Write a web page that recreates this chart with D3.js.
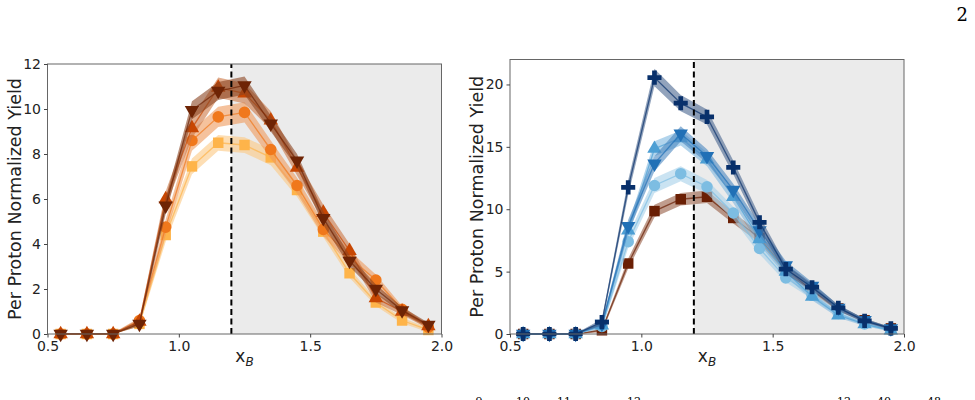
<!DOCTYPE html>
<html>
<head>
<meta charset="utf-8">
<script src="https://cdn.jsdelivr.net/npm/d3@7"></script>
<style>
body { margin: 0; background: #fff; }
svg { display: block; }
.tick text { font-family: "DejaVu Sans", sans-serif; font-size: 14px; fill: #222; }
</style>
</head>
<body>
<div id="chart"></div>
<script>
let w = 975; let h = 400;

// x_B bin centres
const xB = [0.55, 0.65, 0.75, 0.85, 0.95, 1.05, 1.15, 1.25, 1.35, 1.45, 1.55, 1.65, 1.75, 1.85, 1.95];
const xTicks = [0.5, 1.0, 1.5, 2.0];
const leftYTicks = [0, 2, 4, 6, 8, 10, 12];
const rightYTicks = [0, 5, 10, 15, 20];

// left panel series
const leftSquare = [0, 0, 0, 0.45, 4.4, 7.45, 8.5, 8.4, 7.85, 6.4, 4.55, 2.7, 1.4, 0.6, 0.18];
const leftSquareErr = [0.05, 0.05, 0.05, 0.1, 0.3, 0.35, 0.35, 0.35, 0.35, 0.3, 0.25, 0.2, 0.15, 0.12, 0.1];
const leftCircle = [0, 0, 0, 0.6, 4.75, 8.6, 9.65, 9.85, 8.2, 6.6, 4.65, 3.4, 2.4, 1.1, 0.3];
const leftCircleErr = [0.05, 0.05, 0.05, 0.12, 0.35, 0.45, 0.45, 0.45, 0.4, 0.35, 0.3, 0.3, 0.25, 0.15, 0.1];
const leftUp = [0, 0, 0, 0.55, 6.0, 9.15, 10.95, 10.7, 9.5, 7.4, 5.4, 3.7, 1.6, 1.0, 0.35];
const leftUpErr = [0.05, 0.05, 0.05, 0.12, 0.35, 0.45, 0.45, 0.45, 0.4, 0.35, 0.35, 0.3, 0.2, 0.15, 0.1];
const leftDown = [0, 0, 0, 0.45, 5.7, 9.95, 10.8, 11.05, 9.35, 7.7, 5.15, 3.25, 2.0, 1.05, 0.4];
const leftDownErr = [0.05, 0.05, 0.05, 0.12, 0.35, 0.4, 0.4, 0.4, 0.35, 0.3, 0.3, 0.25, 0.2, 0.15, 0.1];

// right panel series
const rightSquare = [0, 0, 0, 0.3, 5.65, 9.85, 10.8, 11.0, 9.3, 7.7, 5.15, 3.5, 2.05, 1.1, 0.45];
const rightSquareErr = [0.05, 0.05, 0.05, 0.15, 0.4, 0.5, 0.5, 0.5, 0.45, 0.4, 0.3, 0.25, 0.2, 0.15, 0.1];
const rightCircle = [0, 0, 0, 0.6, 7.4, 11.9, 12.85, 11.8, 9.7, 6.85, 4.5, 3.1, 1.65, 0.8, 0.3];
const rightCircleErr = [0.05, 0.05, 0.05, 0.2, 0.5, 0.6, 0.6, 0.55, 0.5, 0.45, 0.35, 0.3, 0.2, 0.15, 0.1];
const rightUp = [0, 0, 0, 0.7, 8.3, 14.85, 15.7, 14.0, 11.0, 7.6, 5.0, 3.0, 1.5, 0.8, 0.3];
const rightUpErr = [0.05, 0.05, 0.05, 0.2, 0.5, 0.6, 0.6, 0.55, 0.5, 0.45, 0.35, 0.3, 0.2, 0.15, 0.1];
const rightDown = [0, 0, 0, 0.8, 8.65, 13.65, 16.05, 14.25, 11.55, 8.3, 5.5, 3.85, 2.1, 1.1, 0.45];
const rightDownErr = [0.05, 0.05, 0.05, 0.2, 0.5, 0.6, 0.6, 0.55, 0.5, 0.45, 0.35, 0.3, 0.2, 0.15, 0.1];
const rightPlus = [0, 0, 0, 0.95, 11.75, 20.55, 18.5, 17.4, 13.35, 8.95, 5.2, 3.75, 2.1, 1.05, 0.45];
const rightPlusErr = [0.05, 0.05, 0.05, 0.25, 0.6, 0.7, 0.65, 0.6, 0.55, 0.5, 0.4, 0.3, 0.25, 0.15, 0.1];

// cut-off caption superscripts at the bottom
const captionSups = ["9", "10", "11", "12", "12", "40", "48"];
const captionX = [479, 523, 564, 634, 844, 884, 934];

let svg = d3.select("#chart").append("svg").attr("width", w).attr("height", h);

// page number
svg.append("text")
  .attr("x", 968).attr("y", 21)
  .attr("text-anchor", "end")
  .attr("font-family", "DejaVu Serif, serif")
  .attr("font-size", "18px")
  .text("2");

function panel(opt) {
  let x = d3.scaleLinear().domain([0.5, 2.0]).range([opt.x0, opt.x1]);
  let y = d3.scaleLinear().domain([0, opt.ymax]).range([334, opt.ytop]);
  let g = svg.append("g");

  // shaded region x_B > 1.2
  g.append("rect")
    .attr("x", x(1.2)).attr("y", y(opt.ymax))
    .attr("width", x(2.0) - x(1.2)).attr("height", y(0) - y(opt.ymax))
    .attr("fill", "#ebebeb");

  opt.series.forEach(s => {
    let pts = xB.map((v, i) => ({ x: v, y: s.values[i], e: s.err[i] }));
    let area = d3.area().x(d => x(d.x)).y0(d => y(Math.max(0, d.y - d.e))).y1(d => y(d.y + d.e));
    g.append("path").datum(pts)
      .attr("d", area)
      .attr("fill", s.band).attr("fill-opacity", 0.6);
    g.append("path").datum(pts)
      .attr("d", d3.line().x(d => x(d.x)).y(d => y(d.y)))
      .attr("fill", "none").attr("stroke", s.color).attr("stroke-width", 1.3).attr("stroke-opacity", 0.7);
    g.selectAll(null).data(pts).enter().append("path")
      .attr("d", d3.symbol().type(s.shape).size(s.size))
      .attr("transform", d => "translate(" + x(d.x) + "," + y(d.y) + ")" + (s.flip ? " rotate(180)" : ""))
      .attr("fill", s.color);
  });

  // dashed cut line
  g.append("line")
    .attr("x1", x(1.2)).attr("x2", x(1.2))
    .attr("y1", y(0)).attr("y2", y(opt.ymax))
    .attr("stroke", "#000").attr("stroke-width", 2).attr("stroke-dasharray", "6,3.5");

  // frame
  g.append("rect")
    .attr("x", opt.x0).attr("y", opt.ytop)
    .attr("width", opt.x1 - opt.x0).attr("height", 334 - opt.ytop)
    .attr("fill", "none").attr("stroke", "#666").attr("stroke-width", 1);

  let ax = g.append("g").attr("transform", "translate(0,334)")
    .call(d3.axisBottom(x).tickValues(xTicks).tickFormat(d3.format(".1f")).tickSize(3.5).tickPadding(2));
  let ay = g.append("g").attr("transform", "translate(" + opt.x0 + ",0)")
    .call(d3.axisLeft(y).tickValues(opt.yTicks).tickSize(3.5).tickPadding(3));
  [ax, ay].forEach(a => {
    a.select(".domain").remove();
    a.selectAll(".tick line").attr("stroke", "#444");
  });
  ax.selectAll(".tick text").attr("dy", "0.85em");

  g.append("text")
    .attr("transform", "translate(" + (opt.x0 - 27) + "," + ((334 + opt.ytop) / 2) + ") rotate(-90)")
    .attr("text-anchor", "middle")
    .attr("font-family", "DejaVu Sans, sans-serif")
    .attr("font-size", "17.5px")
    .attr("fill", "#222")
    .text("Per Proton Normalized Yield");

  let xl = g.append("text")
    .attr("x", (opt.x0 + opt.x1) / 2).attr("y", 362)
    .attr("text-anchor", "middle")
    .attr("font-family", "DejaVu Sans, sans-serif")
    .attr("font-size", "17px")
    .attr("fill", "#222");
  xl.append("tspan").text("x");
  xl.append("tspan").attr("dy", 4).attr("font-size", "12px").attr("font-style", "italic").text("B");
}

panel({
  x0: 47.5, x1: 441.5, ymax: 12, ytop: 64, yTicks: leftYTicks,
  series: [
    { values: leftSquare, err: leftSquareErr, color: "#feb44a", band: "#fbc882", shape: d3.symbolSquare, size: 110 },
    { values: leftCircle, err: leftCircleErr, color: "#f0781c", band: "#ee9a5c", shape: d3.symbolCircle, size: 105 },
    { values: leftUp, err: leftUpErr, color: "#c74703", band: "#cc7744", shape: d3.symbolTriangle, size: 90 },
    { values: leftDown, err: leftDownErr, color: "#6e2405", band: "#8a4422", shape: d3.symbolTriangle, size: 90, flip: true }
  ]
});

panel({
  x0: 510, x1: 904, ymax: 22, ytop: 59.5, yTicks: rightYTicks,
  series: [
    { values: rightSquare, err: rightSquareErr, color: "#6a1f04", band: "#965c43", shape: d3.symbolSquare, size: 110 },
    { values: rightCircle, err: rightCircleErr, color: "#7dbde2", band: "#a6d0ea", shape: d3.symbolCircle, size: 105 },
    { values: rightUp, err: rightUpErr, color: "#4d9fd4", band: "#7eb8df", shape: d3.symbolTriangle, size: 90 },
    { values: rightDown, err: rightDownErr, color: "#2170b6", band: "#4b87c0", shape: d3.symbolTriangle, size: 90, flip: true },
    { values: rightPlus, err: rightPlusErr, color: "#08306b", band: "#4a6690", shape: d3.symbolCross, size: 110 }
  ]
});

// caption superscripts, cut by the bottom edge of the page
svg.selectAll(".cap").data(captionSups).enter().append("text")
  .attr("class", "cap")
  .attr("x", (d, i) => captionX[i]).attr("y", 405)
  .attr("text-anchor", "middle")
  .attr("font-family", "DejaVu Serif, serif")
  .attr("font-size", "11px")
  .text(d => d);
</script>
</body>
</html>
